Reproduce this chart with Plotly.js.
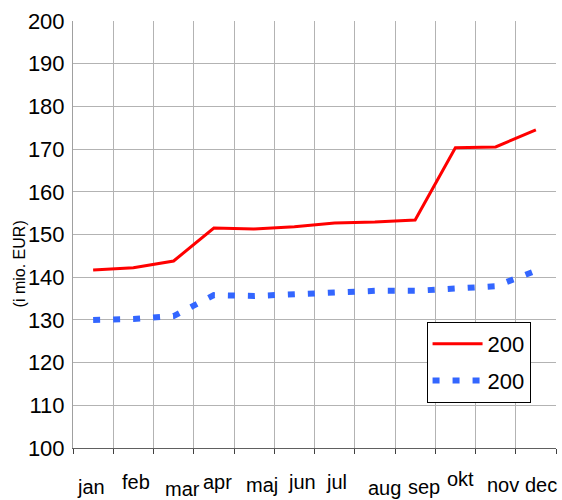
<!DOCTYPE html>
<html>
<head>
<meta charset="utf-8">
<script src="https://cdn.plot.ly/plotly-3.0.1.min.js"></script>
<style>
  html, body { margin: 0; padding: 0; background: #fff; }
  #plot { width: 562px; height: 500px; }
</style>
</head>
<body>
<div id="plot"></div>
<script>
// months on the x axis
const months = ["jan", "feb", "mar", "apr", "maj", "jun", "jul", "aug", "sep", "okt", "nov", "dec"];
// series (i mio. EUR)
const seriesRed = [141.7, 142.2, 143.8, 151.5, 151.3, 151.8, 152.7, 152.9, 153.4, 170.3, 170.5, 174.5];
const seriesBlue = [130.0, 130.2, 130.9, 135.8, 135.6, 136.1, 136.5, 136.8, 136.8, 137.5, 137.9, 141.5];
const seriesNames = ["200", "200"];

// the month labels sit a bit off their slots in the original
const labelDy = [-39, -34, -41, -34, -37, -34, -34, -40, -39, -31, -37, -37];
const labelDx = [-2, 3, 9, 4, 8, 8, 2, 10, 9, 5, 7, 5];

const font = "Liberation Sans, Arial, sans-serif";

const traces = [{
    x: months,
    y: seriesRed,
    name: seriesNames[0],
    legendgroup: "a",
    mode: "lines",
    type: "scatter",
    line: { color: "#ff0000", width: 3 }
}, {
    x: months,
    y: seriesBlue,
    name: seriesNames[1],
    legendgroup: "b",
    mode: "lines",
    type: "scatter",
    line: { color: "#3366ff", width: 6, dash: "7px,13px" }
}];

const annotations = months.map(function(m, i) {
    return {
        x: m, y: 0, xref: "x", yref: "paper",
        text: m, showarrow: false,
        yanchor: "middle", yshift: labelDy[i], xshift: labelDx[i],
        font: { family: font, size: 20, color: "#000" }
    };
});
annotations.push({
    x: 0, y: 0.43, xref: "paper", yref: "paper",
    xanchor: "center", yanchor: "middle",
    xshift: -54, textangle: -90,
    text: "(i mio. EUR)", showarrow: false,
    font: { family: font, size: 16, color: "#000" }
});

const layout = {
    width: 562,
    height: 500,
    margin: { l: 73, r: 6, t: 21, b: 52 },
    paper_bgcolor: "#fff",
    plot_bgcolor: "#fff",
    showlegend: true,
    legend: {
        x: 0.732, y: 0.295, xanchor: "left", yanchor: "top",
        bgcolor: "#fff", bordercolor: "#000", borderwidth: 1,
        font: { family: font, size: 22, color: "#000" },
        itemwidth: 50, tracegroupgap: 5
    },
    xaxis: {
        type: "category",
        tickson: "boundaries",
        showticklabels: false,
        showgrid: true, gridcolor: "#b3b3b3", gridwidth: 1,
        showline: true, linecolor: "#606060", linewidth: 1,
        ticks: "outside", ticklen: 5, tickcolor: "#404040",
        range: [-0.5, 11.5],
        fixedrange: true
    },
    yaxis: {
        range: [100, 200],
        dtick: 10,
        showgrid: true, gridcolor: "#b3b3b3", gridwidth: 1,
        showline: true, linecolor: "#a0a0a0", linewidth: 1,
        zeroline: false,
        tickfont: { family: font, size: 22, color: "#000" },
        ticks: "", ticklabelstandoff: 3
    },
    annotations: annotations
};

Plotly.newPlot("plot", traces, layout, { displayModeBar: false, staticPlot: true });
</script>
</body>
</html>
